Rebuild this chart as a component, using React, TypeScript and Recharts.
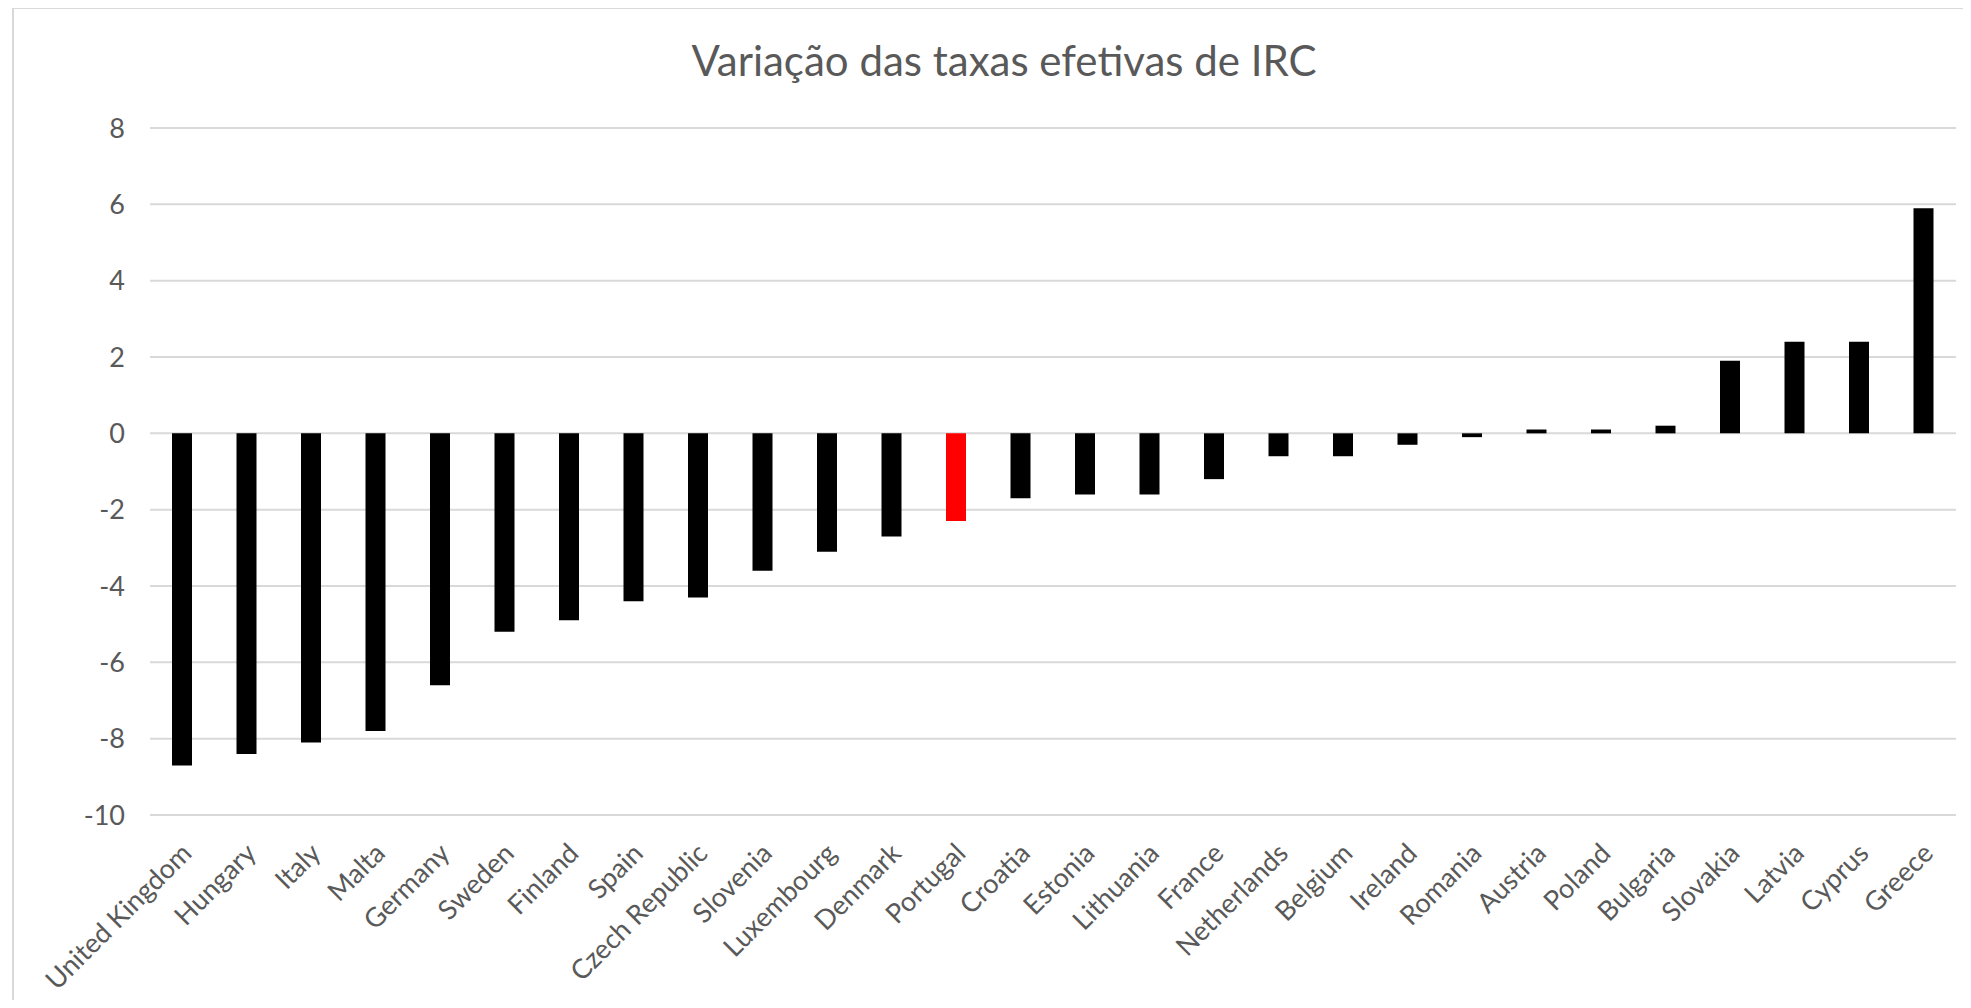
import { BarChart, Bar, Cell, XAxis, YAxis, CartesianGrid } from 'recharts';

// change in effective corporate tax rate (p.p.), sorted ascending
const countries = [
  'United Kingdom', 'Hungary', 'Italy', 'Malta', 'Germany', 'Sweden', 'Finland',
  'Spain', 'Czech Republic', 'Slovenia', 'Luxembourg', 'Denmark', 'Portugal',
  'Croatia', 'Estonia', 'Lithuania', 'France', 'Netherlands', 'Belgium', 'Ireland',
  'Romania', 'Austria', 'Poland', 'Bulgaria', 'Slovakia', 'Latvia', 'Cyprus', 'Greece',
];
const changes = [
  -8.7, -8.4, -8.1, -7.8, -6.6, -5.2, -4.9,
  -4.4, -4.3, -3.6, -3.1, -2.7, -2.3,
  -1.7, -1.6, -1.6, -1.2, -0.6, -0.6, -0.3,
  -0.1, 0.1, 0.1, 0.2, 1.9, 2.4, 2.4, 5.9,
];
const highlighted = ['Portugal'];
const yTicks = [-10, -8, -6, -4, -2, 0, 2, 4, 6, 8];

const TITLE = 'Variação das taxas efetivas de IRC';
const FONT = 'Lato, "Open Sans", sans-serif';
const TEXT = '#595959';

const data = countries.map((name, i) => ({ name, value: changes[i] }));

const CountryTick = (props: any) => {
  const { x, y, payload } = props;
  const ax = x + 11;
  const ay = y + 32;
  return (
    <text
      x={ax}
      y={ay}
      transform={`rotate(-45 ${ax} ${ay})`}
      textAnchor="end"
      fill={TEXT}
      fontSize={27}
      fontFamily={FONT}
    >
      {payload.value}
    </text>
  );
};

export default function App() {
  return (
    <div style={{ position: 'relative', width: 1971, height: 1008, margin: -8, background: '#fff' }}>
      <BarChart
        width={1971}
        height={1008}
        data={data}
        margin={{ top: 128, right: 15, bottom: 0, left: 0 }}
      >
        <CartesianGrid vertical={false} stroke="#d9d9d9" strokeWidth={2} />
        <XAxis
          dataKey="name"
          interval={0}
          height={193}
          axisLine={false}
          tickLine={false}
          tick={<CountryTick />}
        />
        <YAxis
          type="number"
          domain={[-10, 8]}
          ticks={yTicks}
          width={150}
          axisLine={false}
          tickLine={false}
          tickMargin={19}
          tick={{ fill: TEXT, fontSize: 27, fontFamily: FONT }}
        />
        <Bar dataKey="value" barSize={20} isAnimationActive={false}>
          {data.map((d) => (
            <Cell key={d.name} fill={highlighted.includes(d.name) ? '#ff0000' : '#000000'} />
          ))}
        </Bar>
      </BarChart>
      <svg
        width={1971}
        height={1008}
        style={{ position: 'absolute', left: 0, top: 0, pointerEvents: 'none' }}
      >
        <rect x={13} y={8} width={1954} height={1010} fill="none" stroke="#d9d9d9" strokeWidth={2} />
        <text x={1004} y={76} textAnchor="middle" fill={TEXT} fontSize={42} fontFamily={FONT}>
          {TITLE}
        </text>
      </svg>
    </div>
  );
}
